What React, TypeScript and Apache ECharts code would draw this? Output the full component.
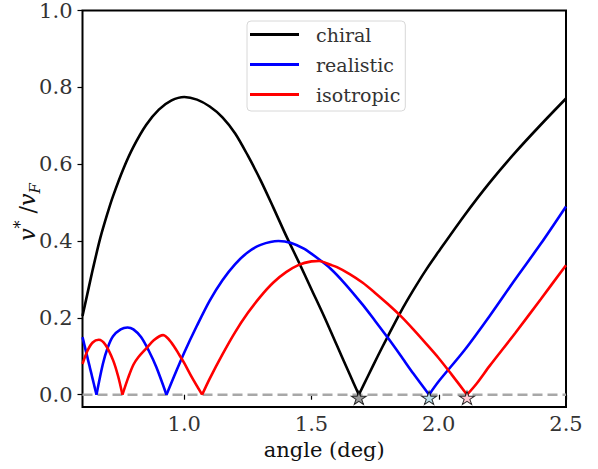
import React, { useEffect, useRef } from "react";
import * as echarts from "echarts";

const chiral: [number, number][] = [
  [0.6, 0.205], [0.62, 0.265], [0.64, 0.325], [0.67, 0.408], [0.7, 0.476], [0.72, 0.517],
  [0.76, 0.587], [0.8, 0.645], [0.85, 0.702], [0.9, 0.742], [0.95, 0.766], [1.0, 0.775],
  [1.05, 0.768], [1.1, 0.75], [1.15, 0.722], [1.2, 0.68], [1.25, 0.622], [1.3, 0.558],
  [1.35, 0.487], [1.4, 0.414], [1.45, 0.345], [1.5, 0.274], [1.55, 0.203], [1.6, 0.128],
  [1.65, 0.053], [1.686, 0.0], [1.72, 0.046], [1.76, 0.1], [1.8, 0.152], [1.85, 0.215],
  [1.9, 0.272], [1.95, 0.325], [2.0, 0.373], [2.1, 0.466], [2.2, 0.552], [2.3, 0.63],
  [2.4, 0.702], [2.5, 0.771],
];

const realistic: [number, number][] = [
  [0.6, 0.15], [0.655, 0.0], [0.68, 0.08], [0.7, 0.124], [0.72, 0.152], [0.75, 0.17],
  [0.777, 0.175], [0.8, 0.17], [0.83, 0.15], [0.86, 0.115], [0.89, 0.072], [0.93, 0.0],
  [0.96, 0.048], [1.0, 0.11], [1.05, 0.18], [1.1, 0.245], [1.15, 0.298], [1.2, 0.34],
  [1.25, 0.371], [1.3, 0.39], [1.37, 0.4], [1.42, 0.395], [1.47, 0.38], [1.52, 0.357],
  [1.575, 0.328], [1.63, 0.29], [1.7, 0.235], [1.75, 0.192], [1.8, 0.148], [1.85, 0.102],
  [1.9, 0.055], [1.962, 0.0], [2.0, 0.035], [2.1, 0.115], [2.2, 0.205], [2.3, 0.3],
  [2.4, 0.392], [2.5, 0.49],
];

const isotropic: [number, number][] = [
  [0.6, 0.08], [0.62, 0.115], [0.64, 0.136], [0.664, 0.143], [0.69, 0.13], [0.72, 0.09],
  [0.74, 0.048], [0.757, 0.0], [0.78, 0.045], [0.8, 0.078], [0.82, 0.098], [0.85, 0.12],
  [0.88, 0.142], [0.917, 0.155], [0.95, 0.135], [0.98, 0.104], [1.0, 0.082], [1.03, 0.045],
  [1.07, 0.0], [1.1, 0.042], [1.15, 0.105], [1.2, 0.163], [1.25, 0.213], [1.3, 0.256],
  [1.35, 0.292], [1.4, 0.319], [1.45, 0.338], [1.5, 0.347], [1.53, 0.348], [1.575, 0.338],
  [1.6, 0.332], [1.65, 0.314], [1.7, 0.292], [1.75, 0.265], [1.8, 0.236], [1.85, 0.205],
  [1.9, 0.17], [1.95, 0.133], [2.0, 0.095], [2.05, 0.053], [2.111, 0.0], [2.15, 0.03],
  [2.2, 0.075], [2.3, 0.16], [2.4, 0.248], [2.5, 0.337],
];

const zeroLine: [number, number][] = [[0.6, 0], [2.5, 0]];
const starPoints: { value: [number, number]; color: string }[] = [
  { value: [1.686, -0.008], color: "#808080" },
  { value: [1.962, -0.008], color: "#add8e6" },
  { value: [2.111, -0.008], color: "#ffc0cb" },
];
const xTicks = [1.0, 1.5, 2.0, 2.5];
const yTicks = [0, 0.2, 0.4, 0.6, 0.8, 1.0];
const seriesNames = ["chiral", "realistic", "isotropic"];
const seriesColors = ["#000000", "#0000ff", "#ff0000"];

const FONT = "DejaVu Serif";
const STAR =
  "path://M0,-1 L0.2245,-0.309 L0.951,-0.309 L0.363,0.118 L0.588,0.809 L0,0.382 L-0.588,0.809 L-0.363,0.118 L-0.951,-0.309 L-0.2245,-0.309 Z";

// split a curve into arches at its zero points so that cusps stay sharp
function splitAtZeros(data: [number, number][]): [number, number][][] {
  const parts: [number, number][][] = [];
  let cur: [number, number][] = [];
  data.forEach((p, i) => {
    cur.push(p);
    if (p[1] === 0 && i > 0 && i < data.length - 1) {
      parts.push(cur);
      cur = [p];
    }
  });
  if (cur.length) parts.push(cur);
  return parts;
}

export default function App() {
  const ref = useRef<HTMLDivElement>(null);
  useEffect(() => {
    document.body.style.margin = "0";
    if (!ref.current) return;
    const chart = echarts.init(ref.current, undefined, { renderer: "svg" });
    const curves = [chiral, realistic, isotropic];
    const lineSeries: any[] = [];
    curves.forEach((curve, k) => {
      splitAtZeros(curve).forEach((seg) => {
        lineSeries.push({
          name: seriesNames[k],
          type: "line",
          data: seg,
          showSymbol: false,
          symbol: "none",
          smooth: 0.3,
          lineStyle: { color: seriesColors[k], width: 2.6 },
          itemStyle: { color: seriesColors[k] },
          z: 3,
        });
      });
    });
    chart.setOption({
      animation: false,
      backgroundColor: "#ffffff",
      textStyle: { fontFamily: FONT },
      grid: {
        left: 82.5,
        right: 32,
        top: 9,
        bottom: 62,
        show: true,
        borderColor: "#000",
        borderWidth: 2,
      },
      xAxis: {
        type: "value",
        min: 0.6,
        max: 2.5,
        name: "angle (deg)",
        nameLocation: "middle",
        nameGap: 32,
        nameTextStyle: { fontFamily: FONT, fontSize: 21, color: "#111" },
        axisLine: { show: false },
        splitLine: { show: false },
        axisTick: {
          show: true,
          length: 5,
          customValues: xTicks,
          lineStyle: { color: "#000", width: 1.2 },
        },
        axisLabel: {
          customValues: xTicks,
          formatter: (v: number) => v.toFixed(1),
          fontFamily: FONT,
          fontSize: 21,
          color: "#333",
          margin: 6,
        },
      },
      yAxis: {
        type: "value",
        min: -0.032,
        max: 1.0,
        axisLine: { show: false },
        splitLine: { show: false },
        axisTick: {
          show: true,
          length: 5,
          customValues: yTicks,
          lineStyle: { color: "#000", width: 1.2 },
        },
        axisLabel: {
          customValues: yTicks,
          formatter: (v: number) => v.toFixed(1),
          fontFamily: FONT,
          fontSize: 21,
          color: "#333",
          margin: 10,
        },
      },
      legend: {
        data: seriesNames,
        orient: "vertical",
        left: 247,
        top: 21,
        icon: "rect",
        itemWidth: 49,
        itemHeight: 3,
        itemGap: 7,
        padding: [2, 5, 5, 3],
        borderColor: "#d8d8d8",
        borderWidth: 1,
        borderRadius: 4,
        backgroundColor: "rgba(255,255,255,0.8)",
        textStyle: {
          fontFamily: FONT,
          fontSize: 19,
          color: "#333",
          lineHeight: 23,
          padding: [0, 0, 0, 12],
        },
      },
      graphic: [
        {
          type: "text",
          x: 27,
          y: 212,
          rotation: Math.PI / 2,
          style: {
            text: "{i|v}{s|*}{n| /}{i|v}{b|F}",
            fill: "#000",
            align: "center",
            verticalAlign: "middle",
            rich: {
              i: { fontFamily: FONT, fontStyle: "italic", fontSize: 22, fill: "#111", lineHeight: 30 },
              n: { fontFamily: FONT, fontSize: 22, fill: "#111", lineHeight: 30 },
              s: { fontFamily: FONT, fontSize: 16, fill: "#111", verticalAlign: "top", lineHeight: 30 },
              b: { fontFamily: FONT, fontStyle: "italic", fontSize: 15, fill: "#111", verticalAlign: "bottom", lineHeight: 22 },
            },
          },
        },
      ],
      series: [
        {
          name: "zero",
          type: "line",
          data: zeroLine,
          showSymbol: false,
          symbol: "none",
          lineStyle: { color: "#a8a8a8", width: 2.6, type: [10, 5] },
          z: 2,
          silent: true,
        },
        ...lineSeries,
        {
          name: "stars",
          type: "scatter",
          symbol: STAR,
          symbolSize: [15, 14],
          symbolKeepAspect: true,
          data: starPoints.map((p) => ({ value: p.value, itemStyle: { color: p.color } })),
          itemStyle: { borderColor: "#000", borderWidth: 1 },
          z: 5,
        },
      ],
    });
    return () => chart.dispose();
  }, []);
  return <div ref={ref} style={{ width: 598, height: 469 }} />;
}
